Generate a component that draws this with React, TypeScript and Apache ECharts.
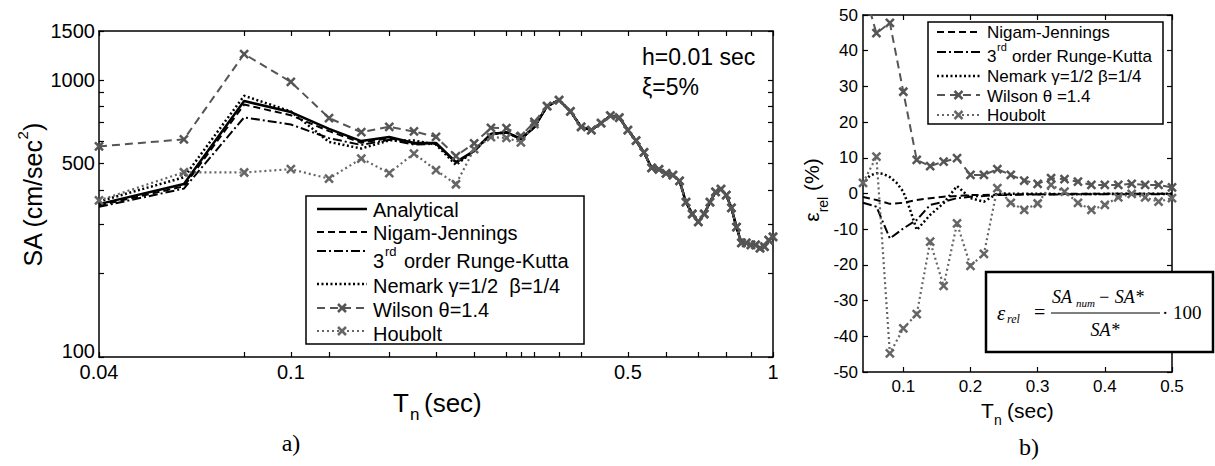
import React, { useEffect, useRef } from "react";
import * as echarts from "echarts";

// ---------- panel a) : spectral acceleration ----------
const periods = [0.04, 0.06, 0.08, 0.1, 0.12, 0.14, 0.16, 0.18, 0.2, 0.22, 0.24, 0.26, 0.28, 0.3, 0.32, 0.34, 0.36, 0.38, 0.4, 0.42, 0.44, 0.46, 0.48, 0.5, 0.52, 0.54, 0.56, 0.58, 0.6, 0.62, 0.64, 0.66, 0.68, 0.7, 0.72, 0.74, 0.76, 0.78, 0.8, 0.82, 0.84, 0.86, 0.88, 0.9, 0.92, 0.94, 0.96, 0.98, 1.0];
// values for T = 0.04 ... 0.32 (where the methods differ)
const analyticalHead = [356, 421, 838, 765, 665, 601, 622, 592, 592, 505, 555, 638, 647, 612, 676];
const nigamHead = [352, 413, 814, 745, 653, 593, 616, 588, 590, 503, 553, 637, 646, 611, 675];
const rungeHead = [348, 405, 732, 690, 616, 582, 608, 584, 587, 501, 552, 636, 645, 610, 674];
const newmarkHead = [364, 445, 876, 769, 597, 565, 605, 604, 584, 493, 555, 637, 646, 611, 676];
const wilsonHead = [575, 610, 1239, 983, 728, 647, 677, 651, 623, 531, 590, 671, 670, 627, 705];
const houboltHead = [367, 464, 463, 476, 440, 520, 461, 542, 472, 420, 562, 621, 617, 595, 692];
// values for T = 0.34 ... 1.0 (all methods coincide)
const saTail = [804, 845, 770, 676, 659, 698, 742, 730, 659, 603, 547, 481, 475, 460, 453, 432, 362, 328, 307, 328, 362, 394, 403, 384, 345, 294, 258, 258, 254, 254, 247, 250, 264, 271];

const leftXTicks = [0.04, 0.08, 0.1, 0.12, 0.16, 0.2, 0.24, 0.28, 0.3, 0.32, 0.36, 0.4, 0.5, 0.6, 0.7, 0.8, 0.9, 1];
const leftXLabels = [0.04, 0.1, 0.5, 1];
const leftYTicks = [100, 200, 300, 400, 500, 600, 700, 800, 900, 1000, 1500];
const leftYLabels = [100, 500, 1000, 1500];

// ---------- panel b) : relative error ----------
const errPeriods = [0.04, 0.06, 0.08, 0.1, 0.12, 0.14, 0.16, 0.18, 0.2, 0.22, 0.24, 0.26, 0.28, 0.3, 0.32, 0.34, 0.36, 0.38, 0.4, 0.42, 0.44, 0.46, 0.48, 0.5];
const nigamErr = [-1.0, -1.8, -2.9, -2.6, -1.8, -1.3, -0.9, -0.7, -0.4, -0.4, -0.3, -0.3, -0.2, -0.2, -0.2, -0.1, -0.1, -0.1, -0.1, -0.1, -0.1, -0.1, -0.1, -0.1];
const rungeErr = [-2.6, -3.7, -12.6, -9.8, -7.4, -3.2, -2.3, -1.3, -0.9, -0.7, -0.4, -0.4, -0.3, -0.3, -0.3, -0.2, -0.2, -0.2, -0.2, -0.2, -0.2, -0.2, -0.2, -0.2];
const wilsonErr = [58, 44.9, 47.8, 28.5, 9.4, 7.7, 8.9, 9.9, 5.2, 5.2, 6.8, 5.2, 3.6, 2.7, 4.3, 4.0, 3.3, 2.4, 2.4, 2.4, 2.7, 2.4, 2.4, 1.7];
const houboltErr = [3.0, 10.3, -44.8, -37.8, -33.8, -13.5, -25.9, -8.4, -20.3, -16.9, 1.5, -2.6, -4.6, -2.8, 2.4, 0.5, -2.6, -4.6, -3.2, -1.1, -0.1, -1.1, -2.3, -1.3];
const newmarkErrPeriods = [0.04, 0.05, 0.06, 0.07, 0.08, 0.09, 0.1, 0.11, 0.12, 0.14, 0.16, 0.18, 0.2, 0.22, 0.24, 0.28, 0.32, 0.36, 0.4, 0.44, 0.48, 0.5];
const newmarkErr = [2.5, 5.0, 5.7, 5.5, 4.6, 3.0, 0.5, -4.5, -10.2, -6.0, -2.7, 2.1, -1.3, -2.3, 0.0, -0.1, -0.1, -0.2, -0.1, -0.1, -0.1, -0.1];
const rightXTicks = [0.1, 0.2, 0.3, 0.4, 0.5];

const SANS = "'Liberation Sans', Arial, Helvetica, sans-serif";
const SERIF = "'Liberation Serif', 'Times New Roman', serif";
const CROSS = "path://M0,0L10,10M10,0L0,10";

const pairs = (xs: number[], ys: number[]) => xs.map((x, i) => [x, ys[i]]);
const fmt = (v: number) => String(parseFloat(Number(v).toPrecision(6)));

const axisLine = { show: true, onZero: false, lineStyle: { color: "#000", width: 1.5 } };
const tick = (vals?: number[]) => {
  const t: any = { show: true, inside: true, length: 5, lineStyle: { color: "#000", width: 1.2 } };
  if (vals) t.customValues = vals;
  return t;
};
const labelStyle = (size: number, margin: number, vals?: number[]) => {
  const l: any = { show: true, color: "#000", fontFamily: SANS, fontSize: size, margin, formatter: fmt };
  if (vals) l.customValues = vals;
  return l;
};

const txt = (text: string, x: number, y: number, fontSize: number, extra: any = {}) => ({
  type: "text",
  x,
  y,
  z: 120,
  silent: true,
  style: {
    text,
    fontSize,
    fontFamily: extra.family || SANS,
    fontStyle: extra.italic ? "italic" : "normal",
    fill: extra.fill || "#000",
    align: extra.align || "left",
    verticalAlign: "middle",
  },
});
const seg = (x1: number, y1: number, x2: number, y2: number, stroke: string, lineWidth: number, lineDash?: number[]) => ({
  type: "line",
  z: 120,
  silent: true,
  shape: { x1, y1, x2, y2 },
  style: { stroke, lineWidth, lineDash: lineDash || null, fill: null },
});
const cross = (cx: number, cy: number, color: string) => [
  seg(cx - 4, cy - 4, cx + 4, cy + 4, color, 2.5),
  seg(cx + 4, cy - 4, cx - 4, cy + 4, color, 2.5),
];

const STYLES: Record<string, any> = {
  analytical: { color: "#000", width: 2.5, type: "solid" },
  nigam: { color: "#000", width: 2, type: [7, 4] },
  runge: { color: "#000", width: 2, type: [9, 3, 2, 3] },
  newmark: { color: "#000", width: 2.5, type: [2, 2.5] },
  wilson: { color: "#555", width: 2, type: [8, 5] },
  houbolt: { color: "#666", width: 2.2, type: [2, 3] },
};

const leftLegendNames = ["Analytical", "Nigam-Jennings", "3rd order Runge-Kutta", "Nemark γ=1/2  β=1/4", "Wilson θ=1.4", "Houbolt"];
const rightLegendNames = ["Nigam-Jennings", "3rd order Runge-Kutta", "Nemark γ=1/2 β=1/4", "Wilson θ =1.4", "Houbolt"];

function lineSeries(name: string, key: string, data: number[][], grid: number, marker: boolean) {
  const s = STYLES[key];
  return {
    type: "line",
    name,
    xAxisIndex: grid * 2,
    yAxisIndex: grid * 2,
    data,
    clip: true,
    silent: true,
    emphasis: { disabled: true },
    symbol: marker ? CROSS : "none",
    symbolSize: 8,
    showAllSymbol: true,
    lineStyle: { color: s.color, width: s.width, type: s.type },
    itemStyle: { color: s.color, borderColor: s.color, borderWidth: 2.5 },
    z: marker ? 4 : 3,
  };
}

function legendEntry(key: string, x1: number, x2: number, y: number, marker: boolean) {
  const s = STYLES[key];
  const items: any[] = [seg(x1, y, x2, y, s.color, s.width, Array.isArray(s.type) ? s.type : undefined)];
  if (marker) items.push(...cross((x1 + x2) / 2, y, s.color));
  return items;
}

function buildGraphic() {
  const g: any[] = [];
  // ----- left legend -----
  g.push({ type: "rect", z: 110, silent: true, shape: { x: 306, y: 196, width: 278, height: 148 }, style: { fill: "#fff", stroke: "#000", lineWidth: 1.5 } });
  const lKeys = ["analytical", "nigam", "runge", "newmark", "wilson", "houbolt"];
  const lLineY = [209, 232, 251, 284, 308, 331];
  const lTextY = [210, 233, 261, 286, 310, 334];
  lKeys.forEach((k, i) => g.push(...legendEntry(k, 317, 367, lLineY[i], i >= 4)));
  g.push(txt(leftLegendNames[0], 373, lTextY[0], 20));
  g.push(txt(leftLegendNames[1], 373, lTextY[1], 20));
  g.push(txt("3", 373, lTextY[2], 20));
  g.push(txt("rd", 385, lTextY[2] - 10, 13));
  g.push(txt("order Runge-Kutta", 404, lTextY[2], 20));
  g.push(txt(leftLegendNames[3], 373, lTextY[3], 20));
  g.push(txt(leftLegendNames[4], 373, lTextY[4], 20));
  g.push(txt(leftLegendNames[5], 373, lTextY[5], 20));

  // ----- right legend -----
  g.push({ type: "rect", z: 110, silent: true, shape: { x: 928, y: 22, width: 235, height: 102 }, style: { fill: "#fff", stroke: "#000", lineWidth: 1.5 } });
  const rKeys = ["nigam", "runge", "newmark", "wilson", "houbolt"];
  const rLineY = [32, 52, 76, 95, 115];
  const rTextY = [32, 56, 76, 96, 115];
  rKeys.forEach((k, i) => g.push(...legendEntry(k, 937, 980, rLineY[i], i >= 3)));
  g.push(txt(rightLegendNames[0], 987, rTextY[0], 17));
  g.push(txt("3", 987, rTextY[1], 17));
  g.push(txt("rd", 997, rTextY[1] - 9, 11));
  g.push(txt("order Runge-Kutta", 1012, rTextY[1], 17));
  g.push(txt(rightLegendNames[2], 987, rTextY[2], 17));
  g.push(txt(rightLegendNames[3], 987, rTextY[3], 17));
  g.push(txt(rightLegendNames[4], 987, rTextY[4], 17));

  // ----- annotations -----
  g.push(txt("h=0.01 sec", 642, 57, 23));
  g.push(txt("ξ=5%", 642, 87, 23));

  // ----- axis titles panel a -----
  g.push({
    type: "text",
    x: 30,
    y: 195,
    z: 120,
    rotation: Math.PI / 2,
    silent: true,
    style: {
      text: "{m|SA (cm/sec}{s|2}{m|)}",
      align: "center",
      verticalAlign: "middle",
      fill: "#000",
      fontFamily: SANS,
      fontSize: 25,
      rich: {
        m: { fontFamily: SANS, fontSize: 25, lineHeight: 30, verticalAlign: "bottom", fill: "#000" },
        s: { fontFamily: SANS, fontSize: 15, lineHeight: 15, verticalAlign: "top", padding: [0, 0, 20, 0], fill: "#000" },
      },
    },
  });
  g.push(txt("T", 393, 403, 26));
  g.push(txt("n", 410, 414, 17));
  g.push(txt("(sec)", 424, 403, 26));
  g.push(txt("a)", 291, 443, 24, { family: SERIF, align: "center" }));

  // ----- axis titles panel b -----
  g.push({
    type: "text",
    x: 814,
    y: 190,
    z: 120,
    rotation: Math.PI / 2,
    silent: true,
    style: {
      text: "{m|ε}{s|rel}{m| (%)}",
      align: "center",
      verticalAlign: "middle",
      fill: "#000",
      fontFamily: SANS,
      fontSize: 21,
      rich: {
        m: { fontFamily: SANS, fontSize: 21, lineHeight: 26, verticalAlign: "top", fill: "#000" },
        s: { fontFamily: SANS, fontSize: 14, lineHeight: 14, verticalAlign: "top", padding: [15, 0, 0, 0], fill: "#000" },
      },
    },
  });
  g.push(txt("T", 981, 410, 21));
  g.push(txt("n", 994, 420, 14));
  g.push(txt("(sec)", 1007, 410, 21));
  g.push(txt("b)", 1029, 447, 24, { family: SERIF, align: "center" }));

  // ----- formula box -----
  g.push({ type: "rect", z: 110, silent: true, shape: { x: 986, y: 272, width: 227, height: 80 }, style: { fill: "#fff", stroke: "#000", lineWidth: 2.5 } });
  g.push(txt("ε", 997, 313, 21, { family: SERIF, italic: true }));
  g.push(txt("rel", 1007, 319, 12, { family: SERIF, italic: true }));
  g.push(txt("=", 1034, 312, 20, { family: SERIF }));
  g.push(seg(1051, 313, 1160, 313, "#000", 1));
  g.push(txt("SA", 1052, 297, 18, { family: SERIF, italic: true }));
  g.push(txt("num", 1076, 303, 11, { family: SERIF, italic: true }));
  g.push(txt("− SA*", 1098, 297, 18, { family: SERIF, italic: true }));
  g.push(txt("SA*", 1105, 330, 18, { family: SERIF, italic: true, align: "center" }));
  g.push(txt("· 100", 1162, 312, 19, { family: SERIF }));
  return g;
}

export default function App() {
  const ref = useRef<HTMLDivElement>(null);
  useEffect(() => {
    if (!ref.current) return;
    const chart = echarts.init(ref.current, null, { renderer: "svg" });

    const full = (head: number[]) => pairs(periods, [...head, ...saTail]);

    const yLabelsLeft = labelStyle(20, 4, leftYLabels);
    yLabelsLeft.formatter = (v: number) => {
      const s = fmt(v);
      return s === "100" ? "{low|100}" : s;
    };
    yLabelsLeft.rich = { low: { fontFamily: SANS, fontSize: 20, color: "#000", padding: [0, 0, 12, 0] } };

    const option: any = {
      animation: false,
      backgroundColor: "#fff",
      grid: [
        { left: 99, top: 31, width: 674, height: 326, show: false },
        { left: 863, top: 15, width: 309, height: 357, show: false },
      ],
      xAxis: [
        { gridIndex: 0, type: "log", logBase: 10, min: 0.04, max: 1, position: "bottom", axisLine, axisTick: tick(leftXTicks), axisLabel: labelStyle(20, 5, leftXLabels), splitLine: { show: false }, minorTick: { show: false } },
        { gridIndex: 0, type: "log", logBase: 10, min: 0.04, max: 1, position: "top", axisLine, axisTick: tick(leftXTicks), axisLabel: { show: false }, splitLine: { show: false } },
        { gridIndex: 1, type: "value", min: 0.04, max: 0.5, position: "bottom", axisLine, axisTick: tick(rightXTicks), axisLabel: labelStyle(17, 6, rightXTicks), splitLine: { show: false } },
        { gridIndex: 1, type: "value", min: 0.04, max: 0.5, position: "top", axisLine, axisTick: tick(rightXTicks), axisLabel: { show: false }, splitLine: { show: false } },
      ],
      yAxis: [
        { gridIndex: 0, type: "log", logBase: 10, min: 100, max: 1500, position: "left", axisLine, axisTick: tick(leftYTicks), axisLabel: yLabelsLeft, splitLine: { show: false } },
        { gridIndex: 0, type: "log", logBase: 10, min: 100, max: 1500, position: "right", axisLine, axisTick: tick(leftYTicks), axisLabel: { show: false }, splitLine: { show: false } },
        { gridIndex: 1, type: "value", min: -50, max: 50, interval: 10, position: "left", axisLine, axisTick: tick(), axisLabel: labelStyle(17, 5), splitLine: { show: false } },
        { gridIndex: 1, type: "value", min: -50, max: 50, interval: 10, position: "right", axisLine, axisTick: tick(), axisLabel: { show: false }, splitLine: { show: false } },
      ],
      series: [
        lineSeries("Analytical", "analytical", full(analyticalHead), 0, false),
        lineSeries("Nigam-Jennings", "nigam", full(nigamHead), 0, false),
        lineSeries("3rd order Runge-Kutta", "runge", full(rungeHead), 0, false),
        lineSeries("Nemark γ=1/2 β=1/4", "newmark", full(newmarkHead), 0, false),
        lineSeries("Houbolt", "houbolt", full(houboltHead), 0, true),
        lineSeries("Wilson θ=1.4", "wilson", full(wilsonHead), 0, true),

        lineSeries("Nigam-Jennings", "nigam", pairs(errPeriods, nigamErr), 1, false),
        lineSeries("3rd order Runge-Kutta", "runge", pairs(errPeriods, rungeErr), 1, false),
        lineSeries("Nemark γ=1/2 β=1/4", "newmark", pairs(newmarkErrPeriods, newmarkErr), 1, false),
        lineSeries("Houbolt", "houbolt", pairs(errPeriods, houboltErr), 1, true),
        lineSeries("Wilson θ=1.4", "wilson", pairs(errPeriods, wilsonErr), 1, true),
      ],
      graphic: buildGraphic(),
    };
    chart.setOption(option);
    return () => chart.dispose();
  }, []);
  return <div ref={ref} style={{ position: "fixed", left: 0, top: 0, width: 1215, height: 466, background: "#fff" }} />;
}
